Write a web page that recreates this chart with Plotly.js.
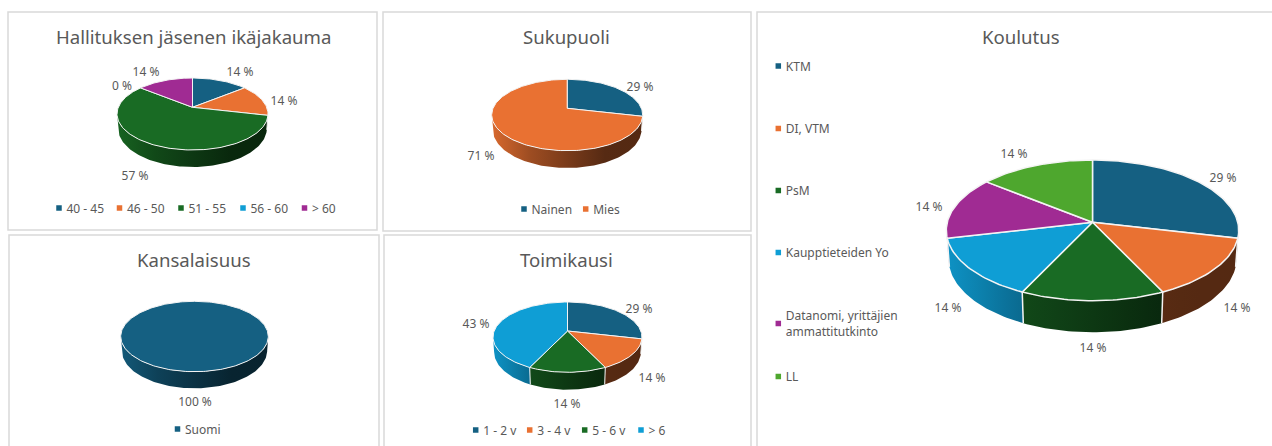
<!DOCTYPE html>
<html>
<head>
<meta charset="utf-8">
<script src="https://cdn.plot.ly/plotly-3.0.1.min.js"></script>
<style>html,body{margin:0;padding:0;background:#fff;overflow:hidden}#chart{width:1272px;height:446px}</style>
</head>
<body>
<div id="chart"></div>
<script>
// ---- data (board member counts) ----
const ageCategories = ["40 - 45", "46 - 50", "51 - 55", "56 - 60", "> 60"];
const ageValues = [1, 1, 4, 0, 1];
const genderCategories = ["Nainen", "Mies"];
const genderValues = [2, 5];
const nationalityCategories = ["Suomi"];
const nationalityValues = [7];
const termCategories = ["1 - 2 v", "3 - 4 v", "5 - 6 v", "> 6"];
const termValues = [2, 1, 1, 3];
const educationCategories = ["KTM", "DI, VTM", "PsM", "Kaupptieteiden Yo", "Datanomi, yrittäjien<br>ammattitutkinto", "LL"];
const educationValues = [2, 1, 1, 1, 1, 1];
const palette = ["#156082", "#E97132", "#196B24", "#0F9ED5", "#A02B93", "#4EA72E"];

// ---- layout of the panels, in page pixels ----
const W = 1272, H = 446;
const FONT = '"Noto Sans", sans-serif';
const TEXT_DY = 1.6;      // vertical nudge for small text
const KEY_GAP = 7.5;      // marker centre to key text
const panels = [
  {title:"Hallituksen jäsenen ikäjakauma", cats:ageCategories, vals:ageValues,
   rect:[8,12,377,230], cx:192.5, cy:107.3, top:78, bottom:150, left:117, right:268, base:167,
   titleAt:[193,36.2],
   labelAt:[[240,71],[284,100],[135,175],[122,85],[146,71]],
   legendAt:[[59,208],[119.5,208],[181,208],[243,208],[304.5,208]]},
  {title:"Sukupuoli", cats:genderCategories, vals:genderValues,
   rect:[383,12,751,231], cx:567.3, cy:108.3, top:79.3, bottom:150.7, left:491.7, right:642.7, base:168,
   titleAt:[566.7,36.5],
   labelAt:[[640,86],[481,155]],
   legendAt:[[524,209],[585.7,209]]},
  {title:"Kansalaisuus", cats:nationalityCategories, vals:nationalityValues,
   rect:[9,235,379,470], cx:194.5, cy:330.3, top:301.3, bottom:371.7, left:120.7, right:268.3, base:388.3,
   titleAt:[193.7,259.2],
   labelAt:[[195,401.5]],
   legendAt:[[177.5,429]]},
  {title:"Toimikausi", cats:termCategories, vals:termValues,
   rect:[384,235,751,470], cx:567.3, cy:331, top:302, bottom:372.3, left:493, right:642, base:389.7,
   titleAt:[566,259.6],
   labelAt:[[639,308],[652,377],[567,403],[476,323]],
   legendAt:[[475.7,430],[529.7,430],[584.7,430],[641,430]]},
  {title:"Koulutus", cats:educationCategories, vals:educationValues,
   rect:[757,12,1290,470], cx:1092.3, cy:222.3, top:160, bottom:300.7, left:946.3, right:1238.7, base:332.3,
   titleAt:[1020.7,36],
   labelAt:[[1223,177.7],[1237,307],[1093,347],[948,307],[929,206.7],[1014,153]],
   legendAt:[[778.3,66],[778.3,128.5],[778.3,190.5],[778.3,252.5],[778.3,323.5],[778.3,376.5]]}
];

function hexRgb(h){return [1,3,5].map(i=>parseInt(h.substr(i,2),16));}
function shade(h,f){const c=hexRgb(h).map(v=>Math.round(v*f));return `rgb(${c[0]},${c[1]},${c[2]})`;}
// brightness of the side wall across the pie, -1 (left) .. 1 (right)
function wallLight(x){
  const s=[[-1.05,.95],[-.5,.68],[.5,.37],[1.05,.36]];
  for(let i=1;i<s.length;i++){ if(x<=s[i][0]){const t=(x-s[i-1][0])/(s[i][0]-s[i-1][0]);return s[i-1][1]+t*(s[i][1]-s[i-1][1]);} }
  return .36;
}

const traces=[], shapes=[], annotations=[], layout={};
panels.forEach((p,k)=>{
  const id=k===0?"":String(k+1);
  const xa="x"+id, ya="y"+id;
  // perspective of the tilted disc, from its four measured extremes
  const backH=p.cy-p.top, frontH=p.bottom-p.cy;
  const c=(frontH-backH)/(frontH+backH);
  const A=backH*(1+c);
  const B=((p.right-p.left)/2)*Math.sqrt(1-c*c);
  const mid=(p.left+p.right)/2;
  const D=(p.base-p.bottom)*(1-c)/A;
  const toX=px=>(px-mid)/B, toY=py=>(p.cy-py)/A;
  const [x0,y0,x1,y1]=p.rect;
  const clampY=v=>Math.min(1,Math.max(0,v));
  layout["xaxis"+id]={domain:[x0/W,Math.min(1,x1/W)],range:[toX(x0),toX(Math.min(W,x1))],visible:false,fixedrange:true,anchor:ya};
  layout["yaxis"+id]={domain:[clampY(1-Math.min(H,y1)/H),clampY(1-y0/H)],range:[toY(Math.min(H,y1)),toY(y0)],visible:false,fixedrange:true,anchor:xa};

  const rim=t=>{const X=Math.sin(t),Y=Math.cos(t),q=1+c*Y;return [X/q,Y/q];};
  const low=t=>{const X=Math.sin(t),Y=Math.cos(t),q=1+c*Y;return [.985*X/q,Y/q-D/q];};
  const thR=Math.acos(-c), thL=2*Math.PI-thR;
  const total=p.vals.reduce((a,b)=>a+b,0);
  const spanPx=Math.sqrt(1/(1-c*c));
  let acc=0;
  const arcs=p.vals.map(v=>{const s=acc/total*2*Math.PI;acc+=v;return [s,acc/total*2*Math.PI];});

  // side wall
  arcs.forEach(([s,e],i)=>{
    const a=Math.max(s,thR), b=Math.min(e,thL);
    if(b<=a) return;
    const n=Math.max(6,Math.ceil((b-a)*40));
    const xs=[],ys=[];
    for(let j=0;j<=n;j++){const r=rim(a+(b-a)*j/n);xs.push(r[0]);ys.push(r[1]);}
    for(let j=n;j>=0;j--){const r=low(a+(b-a)*j/n);xs.push(r[0]);ys.push(r[1]);}
    const xl=Math.min(...xs), xr=Math.max(...xs), col=palette[i];
    const stops=[0,.25,.5,.75,1].map(f=>[f,shade(col,wallLight((xl+(xr-xl)*f)/spanPx))]);
    traces.push({type:"scatter",mode:"lines",x:xs,y:ys,xaxis:xa,yaxis:ya,fill:"toself",hoverinfo:"skip",showlegend:false,
      line:{width:0,color:"rgba(0,0,0,0)"},fillcolor:col,
      fillgradient:{type:"horizontal",colorscale:stops,start:xl,stop:xr}});
  });
  // top faces
  const edge=k===4?1.5:1;
  arcs.forEach(([s,e],i)=>{
    if(e-s<=0) return;
    const n=Math.max(8,Math.ceil((e-s)*40));
    const full=e-s>=2*Math.PI-1e-6;
    const xs=full?[]:[0], ys=full?[]:[0];
    for(let j=0;j<=n;j++){const r=rim(s+(e-s)*j/n);xs.push(r[0]);ys.push(r[1]);}
    if(!full){xs.push(0);ys.push(0);}
    traces.push({type:"scatter",mode:"lines",x:xs,y:ys,xaxis:xa,yaxis:ya,fill:"toself",fillcolor:palette[i],
      line:{width:edge,color:"#f4f4f4"},hoverinfo:"skip",showlegend:false,name:String(p.cats[i])});
  });
  // slice dividers on the wall
  arcs.forEach(([s])=>{
    if(arcs.length<2 || s<=thR || s>=thL) return;
    const r=rim(s), l=low(s);
    traces.push({type:"scatter",mode:"lines",x:[r[0],l[0]],y:[r[1],l[1]],xaxis:xa,yaxis:ya,
      line:{width:edge,color:"#f4f4f4"},hoverinfo:"skip",showlegend:false});
  });
  // percent labels
  traces.push({type:"scatter",mode:"text",xaxis:xa,yaxis:ya,hoverinfo:"skip",showlegend:false,cliponaxis:false,
    x:p.labelAt.map(a=>toX(a[0])),y:p.labelAt.map(a=>toY(a[1]+TEXT_DY)),
    text:p.vals.map(v=>Math.round(v/total*100)+" %"),textposition:"middle center",
    textfont:{family:FONT,size:12,color:"#595959"}});
  // key
  p.cats.forEach((cat,i)=>{
    traces.push({type:"scatter",mode:"markers",xaxis:xa,yaxis:ya,hoverinfo:"skip",showlegend:false,cliponaxis:false,
      x:[toX(p.legendAt[i][0])],y:[toY(p.legendAt[i][1])],
      marker:{symbol:"square",size:5.5,color:palette[i],line:{width:0}}});
    traces.push({type:"scatter",mode:"text",xaxis:xa,yaxis:ya,hoverinfo:"skip",showlegend:false,cliponaxis:false,
      x:[toX(p.legendAt[i][0]+KEY_GAP)],y:[toY(p.legendAt[i][1]+TEXT_DY)],text:[cat],textposition:"middle right",
      textfont:{family:FONT,size:12,color:"#595959"}});
  });
  // title
  annotations.push({xref:"paper",yref:"paper",x:p.titleAt[0]/W,y:1-p.titleAt[1]/H,xanchor:"center",yanchor:"middle",
    text:p.title,showarrow:false,font:{family:FONT,size:18.6,color:"#595959"}});
  // frame
  shapes.push({type:"rect",xref:"paper",yref:"paper",x0:x0/W,x1:x1/W,y0:1-y1/H,y1:1-y0/H,
    line:{color:"#d9d9d9",width:1.5},fillcolor:"rgba(0,0,0,0)",layer:"below"});
});

Object.assign(layout,{width:W,height:H,margin:{l:0,r:0,t:0,b:0},paper_bgcolor:"#fff",plot_bgcolor:"rgba(0,0,0,0)",
  showlegend:false,shapes,annotations,font:{family:FONT,color:"#595959"}});
Plotly.newPlot("chart",traces,layout,{displayModeBar:false,staticPlot:true});
</script>
</body>
</html>
